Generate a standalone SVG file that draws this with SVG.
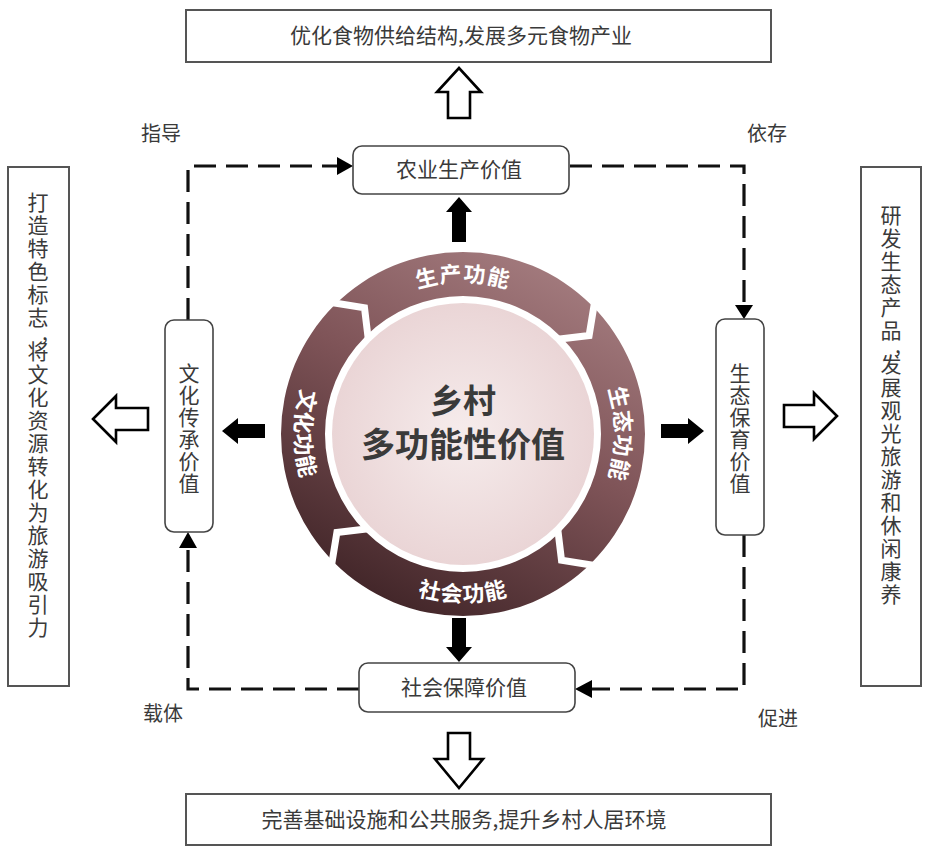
<svg xmlns="http://www.w3.org/2000/svg" width="929" height="848" viewBox="0 0 929 848">
<style>
.t{font-family:"Noto Sans CJK SC","Noto Sans",sans-serif;fill:#3a3a3a;}
.box{fill:#fff;stroke:#555;stroke-width:2;}
.rbox{fill:#fff;stroke:#444;stroke-width:1.6;}
.dash{fill:none;stroke:#111;stroke-width:3.2;stroke-dasharray:22 10;}
.solid{fill:#000;}
.hollow{fill:#fff;stroke:#000;stroke-width:2.6;stroke-linejoin:miter;}
.ring{font-family:"Noto Sans CJK SC","Noto Sans",sans-serif;font-weight:700;font-size:22px;fill:#fff;letter-spacing:1px;}
</style>
<defs>
<linearGradient id="ringGrad" gradientUnits="userSpaceOnUse" x1="560" y1="252" x2="370" y2="616">
<stop offset="0" stop-color="#a67e81"/>
<stop offset="0.45" stop-color="#7f5458"/>
<stop offset="1" stop-color="#3d2225"/>
</linearGradient>
<radialGradient id="pinkGrad" cx="0.5" cy="0.5" r="0.5">
<stop offset="0" stop-color="#f6ecec"/>
<stop offset="1" stop-color="#ead5d6"/>
</radialGradient>
<path id="arcTop" d="M355.5,326.5 A152,152 0 0 1 570.5,326.5"/>
<path id="arcRight" d="M570.5,326.5 A152,152 0 0 1 570.5,541.5"/>
<path id="arcBottom" d="M344.2,552.8 A168,168 0 0 0 581.8,552.8"/>
<path id="arcLeft" d="M344.2,315.2 A168,168 0 0 0 344.2,552.8"/>
<polyline id="chev" points="331.5,302.5 364.5,307.9 368.3,339.3" fill="none" stroke="#fff" stroke-width="7" stroke-linejoin="miter"/>
</defs>

<g id="connectors">
<path class="dash" d="M188,320 L188,166 L338,166"/>
<polygon class="solid" points="337,157 353,166 337,175"/>
<path class="dash" d="M570,166 L744,166 L744,306"/>
<polygon class="solid" points="735,305 753,305 744,319"/>
<path class="dash" d="M744,535 L744,689 L592,689"/>
<polygon class="solid" points="592,680 592,698 575,689"/>
<path class="dash" d="M359,689 L188,689 L188,548"/>
<polygon class="solid" points="179,548 197,548 188,532"/>
<polygon class="solid" points="452,242 452,212 446,212 459,197 472,212 466,212 466,242"/>
<polygon class="solid" points="452,618 452,647 446,647 459,662 472,647 466,647 466,618"/>
<polygon class="solid" points="265,424 238,424 238,418 222,431 238,444 238,438 265,438"/>
<polygon class="solid" points="661,424 688,424 688,418 704,431 688,444 688,438 661,438"/>
<polygon class="hollow" points="448,118 448,92 437,92 459,68 481,92 470,92 470,118"/>
<polygon class="hollow" points="448,733 448,759 435,759 459,788 483,759 470,759 470,733"/>
<polygon class="hollow" points="148,408 116,408 116,396 93,419 116,442 116,430 148,430"/>
<polygon class="hollow" points="784,405 814,405 814,393 837,416 814,439 814,427 784,427"/>
</g>

<g id="labels">
<text class="t" x="141" y="141" font-size="20">指导</text>
<text class="t" x="747" y="141" font-size="20">依存</text>
<text class="t" x="143" y="721" font-size="20">载体</text>
<text class="t" x="758" y="726" font-size="20">促进</text>
</g>

<g id="center">
<path d="M281,434 A182,182 0 1 0 645,434 A182,182 0 1 0 281,434 Z M325,434 A138,138 0 1 1 601,434 A138,138 0 1 1 325,434 Z" fill="url(#ringGrad)" fill-rule="evenodd"/>
<use href="#chev"/>
<use href="#chev" transform="rotate(90 463 434)"/>
<use href="#chev" transform="rotate(180 463 434)"/>
<use href="#chev" transform="rotate(270 463 434)"/>
<circle cx="463" cy="434" r="131" fill="url(#pinkGrad)"/>
<text class="ring"><textPath href="#arcTop" startOffset="50%" text-anchor="middle">生产功能</textPath></text>
<text class="ring"><textPath href="#arcRight" startOffset="50%" text-anchor="middle">生态功能</textPath></text>
<text class="ring"><textPath href="#arcBottom" startOffset="50%" text-anchor="middle">社会功能</textPath></text>
<text class="ring"><textPath href="#arcLeft" startOffset="50%" text-anchor="middle">文化功能</textPath></text>
<text class="t" x="463" y="413" font-size="33" font-weight="700" text-anchor="middle" fill="#2a2a2a">乡村</text>
<text class="t" x="463" y="457" font-size="34" font-weight="700" text-anchor="middle" fill="#2a2a2a">多功能性价值</text>
</g>

<g id="node-top">
<rect class="box" x="186" y="10" width="585" height="52"/>
<text class="t" x="461" y="43" font-size="21" text-anchor="middle">优化食物供给结构,发展多元食物产业</text>
</g>

<g id="node-bottom">
<rect class="box" x="186" y="794" width="585" height="51"/>
<text class="t" x="464" y="827" font-size="21" text-anchor="middle">完善基础设施和公共服务,提升乡村人居环境</text>
</g>

<g id="node-agri">
<rect class="rbox" x="353" y="146" width="216" height="48" rx="9"/>
<text class="t" x="459" y="177" font-size="21" text-anchor="middle">农业生产价值</text>
</g>

<g id="node-social">
<rect class="rbox" x="359" y="663" width="216" height="49" rx="9"/>
<text class="t" x="464" y="695" font-size="21" text-anchor="middle">社会保障价值</text>
</g>

<g id="node-culture">
<rect class="rbox" x="165" y="320" width="48" height="212" rx="9"/>
<text class="t" font-size="21" text-anchor="middle">
<tspan x="189" y="381">文</tspan><tspan x="189" y="403">化</tspan><tspan x="189" y="425">传</tspan><tspan x="189" y="447">承</tspan><tspan x="189" y="469">价</tspan><tspan x="189" y="491">值</tspan>
</text>
</g>

<g id="node-eco">
<rect class="rbox" x="716" y="319" width="48" height="216" rx="9"/>
<text class="t" font-size="21" text-anchor="middle">
<tspan x="740" y="381">生</tspan><tspan x="740" y="403">态</tspan><tspan x="740" y="425">保</tspan><tspan x="740" y="447">育</tspan><tspan x="740" y="469">价</tspan><tspan x="740" y="491">值</tspan>
</text>
</g>

<g id="node-left">
<rect class="box" x="8" y="167" width="61" height="519"/>
<text class="t" font-size="21" text-anchor="middle">
<tspan x="38" y="210">打</tspan><tspan x="38" y="233">造</tspan><tspan x="38" y="256">特</tspan><tspan x="38" y="279">色</tspan><tspan x="38" y="302">标</tspan><tspan x="38" y="325">志</tspan><tspan x="45" y="340">,</tspan><tspan x="38" y="359">将</tspan><tspan x="38" y="382">文</tspan><tspan x="38" y="405">化</tspan><tspan x="38" y="428">资</tspan><tspan x="38" y="451">源</tspan><tspan x="38" y="474">转</tspan><tspan x="38" y="497">化</tspan><tspan x="38" y="520">为</tspan><tspan x="38" y="543">旅</tspan><tspan x="38" y="566">游</tspan><tspan x="38" y="589">吸</tspan><tspan x="38" y="612">引</tspan><tspan x="38" y="635">力</tspan>
</text>
</g>

<g id="node-right">
<rect class="box" x="861" y="167" width="60" height="519"/>
<text class="t" font-size="21" text-anchor="middle">
<tspan x="891" y="223">研</tspan><tspan x="891" y="246">发</tspan><tspan x="891" y="269">生</tspan><tspan x="891" y="292">态</tspan><tspan x="891" y="315">产</tspan><tspan x="891" y="338">品</tspan><tspan x="898" y="353">,</tspan><tspan x="891" y="372">发</tspan><tspan x="891" y="395">展</tspan><tspan x="891" y="418">观</tspan><tspan x="891" y="441">光</tspan><tspan x="891" y="464">旅</tspan><tspan x="891" y="487">游</tspan><tspan x="891" y="510">和</tspan><tspan x="891" y="533">休</tspan><tspan x="891" y="556">闲</tspan><tspan x="891" y="579">康</tspan><tspan x="891" y="602">养</tspan>
</text>
</g>
</svg>
